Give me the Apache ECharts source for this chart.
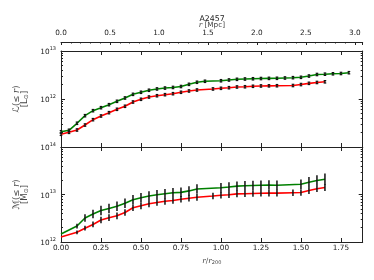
<!DOCTYPE html>
<html>
<head>
<meta charset="utf-8">
<script src="https://cdn.jsdelivr.net/npm/echarts@6/dist/echarts.min.js"></script>
<style>html,body{margin:0;padding:0;background:#fff;}#c{width:374px;height:280px;}</style>
</head>
<body>
<div id="c"></div>
<script>
// ---------------- data ----------------
const clusterName = 'A2457';
const xMaxR200 = 1.886;   // right edge of r/r200 axis
const xMaxMpc = 3.08;     // right edge of r [Mpc] axis

// top panel: luminosity L(<=r) [Lsun]
const xLumGreen = [0,0.05,0.1,0.15,0.2,0.25,0.3,0.35,0.4,0.45,0.5,0.55,0.6,0.65,0.7,0.75,0.8,0.85,0.9,1.0,1.05,1.1,1.15,1.2,1.25,1.3,1.35,1.4,1.45,1.5,1.55,1.6,1.65,1.7,1.75,1.8];
const lumGreen = [2.08e11,2.23e11,3.12e11,4.49e11,5.71e11,6.59e11,7.61e11,8.95e11,1.05e12,1.25e12,1.38e12,1.52e12,1.62e12,1.69e12,1.74e12,1.82e12,2.02e12,2.23e12,2.34e12,2.40e12,2.49e12,2.57e12,2.61e12,2.64e12,2.67e12,2.69e12,2.70e12,2.74e12,2.78e12,2.83e12,3.01e12,3.24e12,3.29e12,3.35e12,3.40e12,3.53e12];
const lumGreenErr = [0.025,0.025,0.025,0.025,0.025,0.025,0.025,0.025,0.025,0.025,0.025,0.025,0.025,0.025,0.025,0.025,0.025,0.025,0.025,0.025,0.025,0.025,0.025,0.025,0.025,0.025,0.025,0.025,0.025,0.025,0.025,0.025,0.025,0.025,0.025,0.025];

const xLumRed = [0,0.05,0.1,0.15,0.2,0.25,0.3,0.35,0.4,0.45,0.5,0.55,0.6,0.65,0.7,0.75,0.8,0.85,0.95,1.0,1.05,1.1,1.15,1.2,1.25,1.3,1.35,1.45,1.5,1.55,1.6,1.65];
const lumRed = [1.84e11,2.02e11,2.26e11,2.87e11,3.71e11,4.43e11,5.19e11,6.10e11,7.05e11,8.66e11,9.86e11,1.10e12,1.17e12,1.23e12,1.29e12,1.38e12,1.47e12,1.54e12,1.62e12,1.67e12,1.72e12,1.78e12,1.80e12,1.84e12,1.87e12,1.88e12,1.89e12,1.91e12,2.00e12,2.12e12,2.21e12,2.28e12];
const lumRedErr = [0.025,0.025,0.025,0.025,0.025,0.025,0.025,0.025,0.025,0.025,0.025,0.025,0.025,0.025,0.025,0.025,0.025,0.025,0.025,0.025,0.025,0.025,0.025,0.025,0.025,0.025,0.025,0.025,0.025,0.025,0.025,0.025];

// bottom panel: mass M(<=r) [Msun]
const xMassGreen = [0,0.1,0.15,0.2,0.25,0.3,0.35,0.4,0.45,0.5,0.55,0.6,0.65,0.7,0.75,0.8,0.85,1.0,1.05,1.1,1.15,1.2,1.25,1.3,1.35,1.5,1.55,1.6,1.65];
const massGreen = [1.47e12,2.17e12,3.20e12,3.88e12,4.60e12,5.07e12,5.65e12,6.53e12,7.78e12,8.53e12,9.30e12,9.90e12,1.04e13,1.09e13,1.11e13,1.19e13,1.31e13,1.39e13,1.44e13,1.50e13,1.53e13,1.55e13,1.57e13,1.58e13,1.57e13,1.64e13,1.81e13,1.97e13,2.09e13];
const massGreenErr = [0,0.05,0.08,0.09,0.1,0.1,0.1,0.1,0.1,0.1,0.1,0.1,0.1,0.1,0.1,0.1,0.1,0.1,0.1,0.1,0.1,0.1,0.1,0.1,0.1,0.1,0.11,0.11,0.12];

const xMassRed = [0,0.1,0.15,0.2,0.25,0.3,0.35,0.4,0.45,0.5,0.55,0.6,0.65,0.7,0.75,0.8,0.85,0.95,1.0,1.05,1.1,1.15,1.2,1.25,1.3,1.35,1.45,1.5,1.55,1.6,1.65];
const massRed = [1.27e12,1.60e12,1.95e12,2.34e12,2.90e12,3.25e12,3.56e12,4.18e12,5.27e12,5.78e12,6.37e12,6.79e12,7.19e12,7.48e12,7.93e12,8.36e12,8.73e12,9.30e12,9.62e12,9.90e12,1.03e13,1.04e13,1.05e13,1.06e13,1.07e13,1.07e13,1.09e13,1.10e13,1.21e13,1.32e13,1.40e13];
const massRedErr = [0,0.04,0.05,0.06,0.07,0.07,0.07,0.07,0.07,0.07,0.07,0.07,0.07,0.07,0.07,0.07,0.07,0.07,0.07,0.07,0.07,0.07,0.07,0.07,0.07,0.07,0.07,0.07,0.07,0.07,0.07];

// ---------------- chart ----------------
const FONT = 'DejaVu Sans';
const INK = '#222';
const GREEN = '#008000';
const RED = '#ff0000';

function pairs(xs, ys) { return xs.map((x, i) => [x, ys[i]]); }
function errs(xs, ys, e) { return xs.map((x, i) => [x, ys[i] / Math.pow(10, e[i]), ys[i] * Math.pow(10, e[i])]); }

const supLabel = {
  formatter: v => '{b|10}{s|' + Math.round(Math.log10(v)) + '}',
  margin: 5,
  rich: {
    b: {fontSize: 7.3, fontFamily: FONT, color: INK, lineHeight: 10, verticalAlign: 'bottom'},
    s: {fontSize: 5, fontFamily: FONT, color: INK, lineHeight: 6, verticalAlign: 'top'}
  }
};

function xAx(grid, pos, labels, extra) {
  return Object.assign({
    gridIndex: grid, type: 'value', position: pos, min: 0, max: xMaxR200, interval: 0.25,
    axisLine: {show: true, onZero: false, lineStyle: {color: INK, width: 1}},
    axisTick: {show: true, inside: true, length: 4, lineStyle: {color: INK}},
    splitLine: {show: false},
    axisLabel: labels ? {show: true, formatter: v => v.toFixed(2), fontSize: 7.3, fontFamily: FONT, color: INK, margin: 3, showMaxLabel: false} : {show: false}
  }, extra || {});
}
function yAx(grid, pos, mn, mx, labels, extra) {
  return Object.assign({
    gridIndex: grid, type: 'log', logBase: 10, position: pos, min: mn, max: mx,
    axisLine: {show: true, onZero: false, lineStyle: {color: INK, width: 1}},
    axisTick: {show: true, inside: true, length: 4, lineStyle: {color: INK}},
    minorTick: {show: true, splitNumber: 9, length: 2, lineStyle: {color: INK}},
    splitLine: {show: false}, minorSplitLine: {show: false},
    axisLabel: labels ? Object.assign({show: true}, supLabel) : {show: false}
  }, extra || {});
}
const nameStyle = {
  fontSize: 7.3, fontFamily: FONT, color: '#444', lineHeight: 8,
  rich: {
    i: {fontSize: 7.3, fontFamily: 'DejaVu Serif', fontStyle: 'italic', color: '#444'},
    s: {fontSize: 5, fontFamily: FONT, color: '#444', verticalAlign: 'bottom'}
  }
};
const yNameStyle = {
  fontSize: 8.5, fontFamily: FONT, color: '#444', lineHeight: 8,
  rich: {
    i: {fontSize: 8.5, fontFamily: 'DejaVu Serif', fontStyle: 'italic', color: '#444'},
    c: {fontSize: 9, fontFamily: FONT, color: '#444'},
    s: {fontSize: 6, fontFamily: FONT, color: '#444', verticalAlign: 'bottom'}
  }
};

const option = {
  animation: false,
  backgroundColor: '#fff',
  title: {
    text: clusterName, left: 207, top: 10, textAlign: 'center',
    textStyle: {fontSize: 7.8, fontFamily: FONT, color: INK, fontWeight: 'normal'}
  },
  grid: [
    {left: 61, top: 51, width: 301.7, height: 96},
    {left: 61, top: 147, width: 301.7, height: 95}
  ],
  xAxis: [
    xAx(0, 'bottom', false),
    xAx(0, 'top', false),
    {
      gridIndex: 0, type: 'value', position: 'top', offset: 9, min: 0, max: xMaxMpc, interval: 0.5,
      axisLine: {show: true, onZero: false, lineStyle: {color: INK, width: 1}},
      axisTick: {show: true, inside: true, length: 3, lineStyle: {color: INK}},
      minorTick: {show: true, splitNumber: 5, length: 1.5, lineStyle: {color: INK}},
      splitLine: {show: false},
      axisLabel: {show: true, formatter: v => v.toFixed(1), fontSize: 7.3, fontFamily: FONT, color: INK, margin: 5, showMaxLabel: false},
      name: '{i|r} [Mpc]', nameLocation: 'middle', nameGap: 13, nameTextStyle: nameStyle
    },
    xAx(1, 'bottom', true, {name: '{i|r}/{i|r}{s|200}', nameLocation: 'middle', nameGap: 15, nameTextStyle: nameStyle}),
    xAx(1, 'top', false)
  ],
  yAxis: [
    yAx(0, 'left', 1e11, 1e13, true, {
      axisLabel: Object.assign({show: true, showMinLabel: false}, supLabel),
      name: '{c|ℒ}(≤ {i|r})\n[L{s|⊙}]', nameLocation: 'middle', nameRotate: 90, nameGap: 25, nameTextStyle: yNameStyle
    }),
    yAx(0, 'right', 1e11, 1e13, false),
    yAx(1, 'left', 1e12, 1e14, true, {
      name: '{c|ℳ}(≤ {i|r})\n[M{s|⊙}]', nameLocation: 'middle', nameRotate: 90, nameGap: 25, nameTextStyle: yNameStyle
    }),
    yAx(1, 'right', 1e12, 1e14, false)
  ],
  series: []
};

function lineSeries(xi, yi, data, color) {
  return {type: 'line', xAxisIndex: xi, yAxisIndex: yi, data: data, showSymbol: false, symbol: 'none',
          lineStyle: {color: color, width: 1.6}, itemStyle: {color: color}, z: 2, silent: true};
}
function errSeries(xi, yi, data, cap, lw) {
  return {
    type: 'custom', xAxisIndex: xi, yAxisIndex: yi, data: data, z: 3, silent: true,
    encode: {x: 0, y: [1, 2]},
    renderItem: function (params, api) {
      const x = api.value(0);
      const lo = api.value(1), hi = api.value(2);
      if (lo === hi) return null;
      const p1 = api.coord([x, lo]);
      const p2 = api.coord([x, hi]);
      const st = {stroke: '#111', lineWidth: lw};
      const ch = [{type: 'line', shape: {x1: p1[0], y1: p1[1], x2: p2[0], y2: p2[1]}, style: st}];
      if (cap) {
        ch.push({type: 'line', shape: {x1: p1[0] - cap, y1: p1[1], x2: p1[0] + cap, y2: p1[1]}, style: st});
        ch.push({type: 'line', shape: {x1: p2[0] - cap, y1: p2[1], x2: p2[0] + cap, y2: p2[1]}, style: st});
      }
      return {type: 'group', children: ch};
    }
  };
}

option.series.push(lineSeries(0, 0, pairs(xLumRed, lumRed), RED));
option.series.push(lineSeries(0, 0, pairs(xLumGreen, lumGreen), GREEN));
option.series.push(errSeries(0, 0, errs(xLumRed, lumRed, lumRedErr), 1.3, 1.2));
option.series.push(errSeries(0, 0, errs(xLumGreen, lumGreen, lumGreenErr), 1.3, 1.2));
option.series.push(lineSeries(3, 2, pairs(xMassRed, massRed), RED));
option.series.push(lineSeries(3, 2, pairs(xMassGreen, massGreen), GREEN));
option.series.push(errSeries(3, 2, errs(xMassRed, massRed, massRedErr), 0, 1.5));
option.series.push(errSeries(3, 2, errs(xMassGreen, massGreen, massGreenErr), 0, 1.5));

const chart = echarts.init(document.getElementById('c'), null, {renderer: 'canvas', width: 374, height: 280});
chart.setOption(option);
</script>
</body>
</html>
